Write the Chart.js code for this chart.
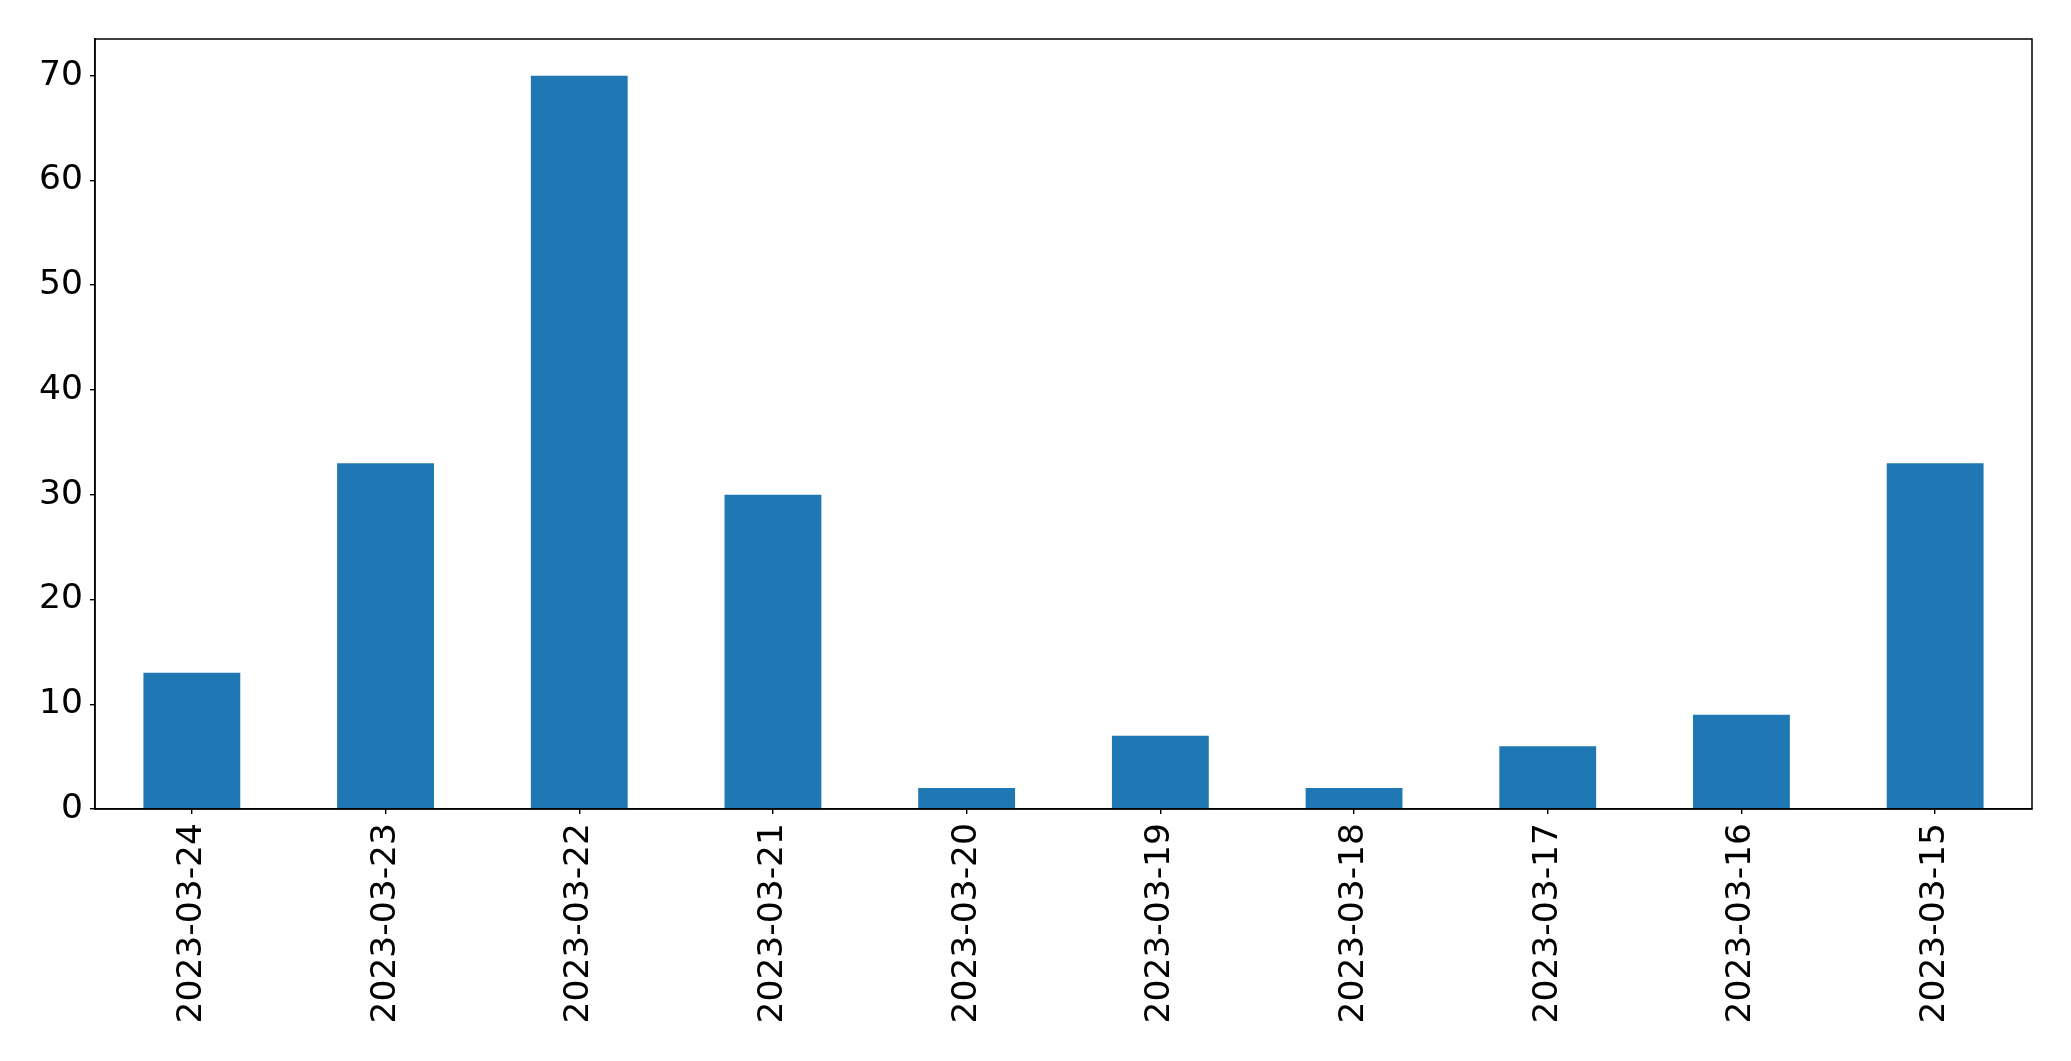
<!DOCTYPE html>
<html lang="en">

<head>
  <meta charset="UTF-8">
  <title>Counts per day</title>
  <script src="https://cdn.jsdelivr.net/npm/chart.js"></script>
  <style>
    html, body { margin: 0; padding: 0; background: #fff; }
    .chart-container { width: 2071px; height: 1061px; }
  </style>
</head>

<body>
  <div class="chart-container">
    <canvas id="chartDays" width="2071" height="1061"></canvas>
  </div>

  <script>
    // Data
    const days = ['2023-03-24', '2023-03-23', '2023-03-22', '2023-03-21', '2023-03-20',
                  '2023-03-19', '2023-03-18', '2023-03-17', '2023-03-16', '2023-03-15'];
    const counts = [13, 33, 70, 30, 2, 7, 2, 6, 9, 33];
    const yTicks = [0, 10, 20, 30, 40, 50, 60, 70];

    // Draw the box round the plot area (matplotlib style frame)
    const frame = {
      id: 'frame',
      afterDraw(chart) {
        const { ctx, chartArea: a } = chart;
        ctx.save();
        ctx.strokeStyle = '#000';
        ctx.lineWidth = 1.5;
        ctx.strokeRect(a.left, a.top, a.right - a.left, a.bottom - a.top);
        ctx.restore();
      }
    };

    const font = { family: 'DejaVu Sans', size: 34.5 };

    new Chart(document.getElementById('chartDays').getContext('2d'), {
      type: 'bar',
      data: {
        labels: days,
        datasets: [{
          data: counts,
          backgroundColor: '#1f77b4',
          borderWidth: 0,
          barPercentage: 0.5,
          categoryPercentage: 1.0
        }]
      },
      options: {
        responsive: false,
        animation: false,
        layout: { padding: { top: 39, right: 39, left: 0, bottom: 0 } },
        plugins: { legend: { display: false }, tooltip: { enabled: false } },
        scales: {
          x: {
            grid: { offset: false, drawOnChartArea: false, drawTicks: true, tickLength: 5, color: '#000', lineWidth: 1.4 },
            border: { display: true, color: '#000', width: 1.5 },
            ticks: { color: '#000', font: font, minRotation: 90, maxRotation: 90, padding: 9, autoSkip: false },
            afterFit(scale) { scale.height = 252; }
          },
          y: {
            min: 0,
            max: 73.5,
            grid: { drawOnChartArea: false, drawTicks: true, tickLength: 5, color: '#000', lineWidth: 1.4 },
            border: { display: true, color: '#000', width: 1.5 },
            ticks: { color: '#000', font: font, padding: 7, includeBounds: false, stepSize: 10 },
            afterBuildTicks(scale) { scale.ticks = yTicks.map(v => ({ value: v })); },
            afterFit(scale) { scale.width = 95; }
          }
        }
      },
      plugins: [frame]
    });
  </script>
</body>

</html>
